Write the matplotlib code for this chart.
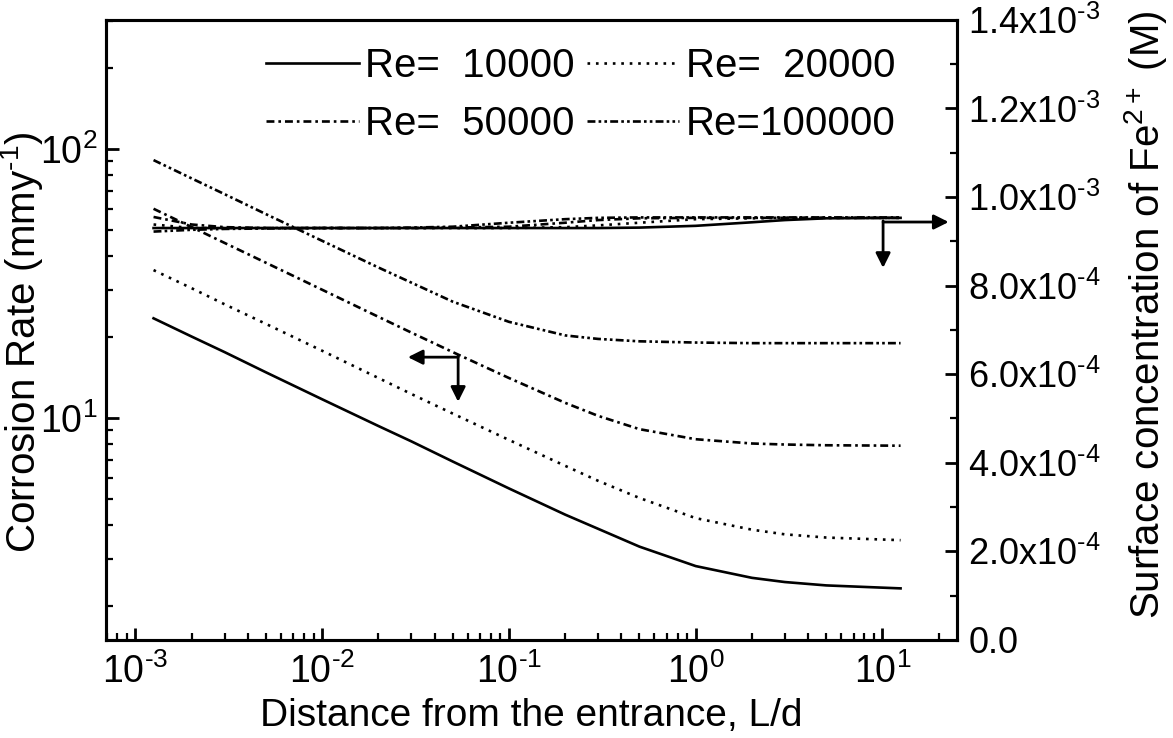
import matplotlib as mpl
mpl.use('Agg')
import matplotlib.pyplot as plt
from matplotlib.ticker import LogLocator, MultipleLocator, FuncFormatter, NullFormatter
import numpy as np

plt.rcParams['font.family'] = ['Liberation Sans', 'DejaVu Sans']
plt.rcParams['mathtext.fontset'] = 'custom'
plt.rcParams['mathtext.rm'] = 'Liberation Sans'
plt.rcParams['mathtext.it'] = 'Liberation Sans:italic'

# distance from the entrance, L/d
ld = [0.00125, 0.002, 0.003, 0.005, 0.01, 0.02, 0.03, 0.05, 0.1, 0.2, 0.3, 0.5, 1, 2, 3, 5, 12.5]

labels = ['Re=  10000', 'Re=  20000', 'Re=  50000', 'Re=100000']

# corrosion rate, mm/y (left axis)
cr_10k = [23.5, 20.1, 17.6, 14.8, 11.75, 9.35, 8.2, 6.9, 5.48, 4.38, 3.88, 3.33, 2.82, 2.55, 2.46, 2.39, 2.33]
cr_20k = [35.5, 30.4, 26.5, 22.4, 17.8, 14.1, 12.3, 10.4, 8.3, 6.65, 5.85, 5.05, 4.25, 3.85, 3.7, 3.6, 3.52]
cr_50k = [60, 51.3, 44.8, 37.8, 30.0, 23.8, 20.8, 17.6, 14.1, 11.4, 10.2, 9.1, 8.35, 8.05, 7.98, 7.93, 7.9]
cr_100k = [91, 77.8, 68, 57.3, 45.6, 36.3, 31.9, 27.1, 22.8, 20.3, 19.7, 19.3, 19.1, 19.0, 19.0, 19.0, 19.0]

# surface Fe2+ concentration, M (right axis)
fe_10k = [9.30e-4, 9.30e-4, 9.30e-4, 9.30e-4, 9.30e-4, 9.30e-4, 9.30e-4, 9.30e-4, 9.30e-4, 9.30e-4,
          9.30e-4, 9.31e-4, 9.35e-4, 9.43e-4, 9.48e-4, 9.52e-4, 9.53e-4]
fe_20k = [9.38e-4, 9.30e-4, 9.30e-4, 9.30e-4, 9.30e-4, 9.30e-4, 9.30e-4, 9.30e-4, 9.30e-4, 9.32e-4,
          9.36e-4, 9.42e-4, 9.50e-4, 9.52e-4, 9.53e-4, 9.53e-4, 9.53e-4]
fe_50k = [9.55e-4, 9.38e-4, 9.32e-4, 9.30e-4, 9.30e-4, 9.30e-4, 9.30e-4, 9.31e-4, 9.33e-4, 9.42e-4,
          9.48e-4, 9.52e-4, 9.53e-4, 9.53e-4, 9.53e-4, 9.53e-4, 9.53e-4]
fe_100k = [9.22e-4, 9.26e-4, 9.28e-4, 9.29e-4, 9.30e-4, 9.30e-4, 9.31e-4, 9.33e-4, 9.42e-4, 9.50e-4,
           9.53e-4, 9.54e-4, 9.54e-4, 9.54e-4, 9.54e-4, 9.54e-4, 9.54e-4]

styles = ['-', (0, (1, 2.2)), (0, (3, 1.5, 1, 1.5)), (0, (3, 1.2, 1, 1.2, 1, 1.2))]

fig = plt.figure(figsize=(11.73, 7.38), dpi=100)
ax1 = fig.add_axes([0.090, 0.133, 0.726, 0.840])
ax2 = ax1.twinx()

lines = []
for y, ls, lab in zip([cr_10k, cr_20k, cr_50k, cr_100k], styles, labels):
    l, = ax1.plot(ld, y, color='black', ls=ls, lw=1.9, label=lab)
    lines.append(l)
for y, ls in zip([fe_10k, fe_20k, fe_50k, fe_100k], styles):
    ax2.plot(ld, y, color='black', ls=ls, lw=1.9)

ax1.set_xscale('log')
ax1.set_yscale('log')
ax1.set_xlim(10**-3.16, 10**1.40)
ax1.set_ylim(1.5, 302)
ax2.set_ylim(0, 1.4e-3)

ax1.xaxis.set_major_locator(LogLocator(base=10, numticks=10))
ax1.xaxis.set_minor_locator(LogLocator(base=10, subs=np.arange(2, 10), numticks=20))
ax1.xaxis.set_minor_formatter(NullFormatter())
ax1.yaxis.set_minor_locator(LogLocator(base=10, subs=np.arange(2, 10), numticks=20))
ax1.yaxis.set_minor_formatter(NullFormatter())

def log_fmt(v, pos):
    e = int(round(np.log10(v)))
    return '10$^{\\mathregular{%s}}$' % str(e).replace('-', '\u2010')

def fe_fmt(v, pos):
    if v < 1e-12:
        return '0.0' if abs(v) < 1e-12 else ''
    e = int(np.floor(np.log10(v) + 1e-9))
    m = v / 10**e
    return '%.1fx10$^{%s}$' % (m, str(e).replace('-', '\u2010'))

ax1.xaxis.set_major_formatter(FuncFormatter(log_fmt))
ax1.yaxis.set_major_formatter(FuncFormatter(log_fmt))
ax2.yaxis.set_major_locator(MultipleLocator(2e-4))
ax2.yaxis.set_minor_locator(MultipleLocator(1e-4))
ax2.yaxis.set_major_formatter(FuncFormatter(fe_fmt))

for ax in (ax1, ax2):
    ax.tick_params(which='major', direction='in', length=9, width=2, labelsize=27)
    ax.tick_params(which='minor', direction='in', length=5, width=1.6)
    for sp in ax.spines.values():
        sp.set_linewidth(2.2)
ax1.tick_params(axis='x', pad=10)
ax1.tick_params(axis='y', pad=6)
ax2.tick_params(axis='y', pad=8, labelsize=26)

ax1.set_xlabel('Distance from the entrance, L/d', fontsize=28, labelpad=5)
ax1.set_ylabel('Corrosion Rate (mmy$^{\u20101}$)', fontsize=29)
ax2.set_ylabel('Surface concentration of Fe$^{2+}$ (M)', fontsize=29, rotation=90)
ax1.yaxis.set_label_coords(-0.071, 0.48)
ax2.yaxis.set_label_coords(1.194, 0.524)

order = [0, 2, 1, 3]
leg = ax1.legend(handles=[lines[i] for i in order], ncol=2, loc='upper left',
                 bbox_to_anchor=(0.17, 0.982), frameon=False, fontsize=29,
                 handlelength=2.3, handletextpad=0.15, columnspacing=0.3,
                 labelspacing=0.5, borderaxespad=0)

# arrows pointing to the relevant axis
arw = dict(arrowstyle='-|>', color='black', lw=2, mutation_scale=22, shrinkA=0, shrinkB=0)
ax1.annotate('', xy=(0.99, 0.674), xytext=(0.913, 0.674), xycoords='axes fraction', arrowprops=arw)
ax1.annotate('', xy=(0.913, 0.600), xytext=(0.913, 0.676), xycoords='axes fraction', arrowprops=arw)
ax1.annotate('', xy=(0.355, 0.456), xytext=(0.414, 0.456), xycoords='axes fraction', arrowprops=arw)
ax1.annotate('', xy=(0.414, 0.384), xytext=(0.414, 0.458), xycoords='axes fraction', arrowprops=arw)

plt.savefig('out.png', dpi=100)
plt.close()
